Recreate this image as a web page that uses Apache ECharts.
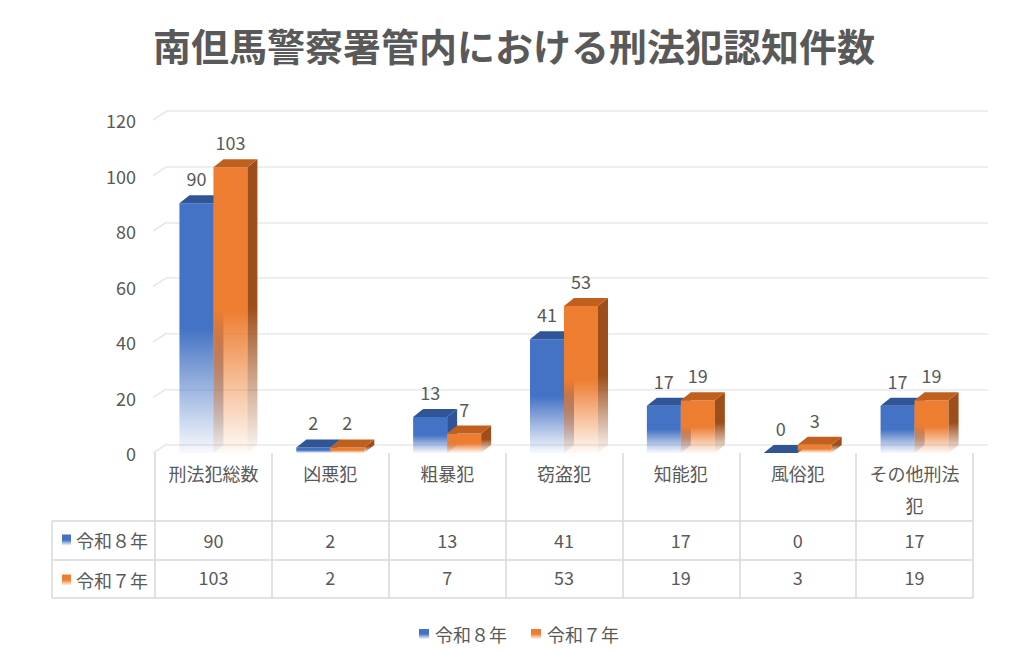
<!DOCTYPE html>
<html>
<head>
<meta charset="utf-8">
<script src="https://cdn.jsdelivr.net/npm/echarts@6/dist/echarts.min.js"></script>
<style>
html,body{margin:0;padding:0;background:#fff;}
#chart{width:1028px;height:662px;}
</style>
</head>
<body>
<div id="chart"></div>
<script>
const titleText = '南但馬警察署管内における刑法犯認知件数';
const categories = ['刑法犯総数', '凶悪犯', '粗暴犯', '窃盗犯', '知能犯', '風俗犯', 'その他刑法犯'];
const seriesNames = ['令和８年', '令和７年'];
const valuesR8 = [90, 2, 13, 41, 17, 0, 17];
const valuesR7 = [103, 2, 7, 53, 19, 3, 19];
const yTicks = [0, 20, 40, 60, 80, 100, 120];

const FONT = '"Noto Sans CJK JP", "Noto Sans", sans-serif';
const TXT = '#595959';
const GRID_LINE = '#e8e8e8';
const TABLE_LINE = '#d9d9d9';

const palettes = [
  { front: [68, 114, 196], top: '#2f5597', side: [47, 85, 151] },
  { front: [237, 125, 49], top: '#c0601f', side: [158, 78, 26] }
];

function fade(rgb) {
  const c = 'rgb(' + rgb.join(',') + ')';
  return {
    type: 'linear', x: 0, y: 0, x2: 0, y2: 1,
    colorStops: [
      { offset: 0, color: c },
      { offset: 0.5, color: c },
      { offset: 0.78, color: 'rgba(' + rgb.join(',') + ',0.45)' },
      { offset: 1, color: 'rgba(' + rgb.join(',') + ',0.04)' }
    ]
  };
}

const BAR_W = 34, DX = 10, DY = 8;

function makeBarSeries(idx, values) {
  const pal = palettes[idx];
  return {
    name: seriesNames[idx],
    type: 'custom',
    xAxisIndex: 0,
    yAxisIndex: 0,
    itemStyle: { color: fade(pal.front) },
    data: values.map((v, i) => [i, v]),
    encode: { x: 0, y: 1 },
    z: 3 + idx,
    renderItem: function (params, api) {
      const i = api.value(0), v = api.value(1);
      const top = api.coord([i, v]);
      const base = api.coord([i, 0]);
      const x0 = idx === 0 ? top[0] - BAR_W : top[0];
      const x1 = x0 + BAR_W;
      const yt = top[1], yb = base[1];
      const children = [];
      if (yb - yt > 0.5) {
        children.push({
          type: 'rect',
          shape: { x: x0, y: yt, width: BAR_W, height: yb - yt },
          style: { fill: fade(pal.front) }
        });
        children.push({
          type: 'polygon',
          shape: { points: [[x1, yt], [x1 + DX, yt - DY], [x1 + DX, yb - DY], [x1, yb]] },
          style: { fill: fade(pal.side) }
        });
      }
      children.push({
        type: 'polygon',
        shape: { points: [[x0, yt], [x0 + DX, yt - DY], [x1 + DX, yt - DY], [x1, yt]] },
        style: { fill: pal.top }
      });
      children.push({
        type: 'text',
        style: {
          text: String(v), x: x0 + BAR_W / 2, y: yt - 25,
          align: 'center', verticalAlign: 'middle',
          fill: TXT, fontSize: 18, fontFamily: FONT
        }
      });
      return { type: 'group', children: children };
    }
  };
}

const chart = echarts.init(document.getElementById('chart'), null, { renderer: 'svg' });

const tableLeft = 52, gridL = 155, gridR = 973;
const rowLines = [521, 560, 598];

const graphicEls = rowLines.map(y => ({
  type: 'line', silent: true,
  shape: { x1: tableLeft, y1: y, x2: gridR, y2: y },
  style: { stroke: TABLE_LINE, lineWidth: 1.5 }
}));
graphicEls.push({
  type: 'line', silent: true,
  shape: { x1: tableLeft, y1: rowLines[0], x2: tableLeft, y2: rowLines[2] },
  style: { stroke: TABLE_LINE, lineWidth: 1.5 }
});

const option = {
  backgroundColor: '#fff',
  animation: false,
  title: {
    text: titleText, left: 'center', top: 20,
    textStyle: { fontSize: 38, fontWeight: 'bold', color: TXT, fontFamily: FONT }
  },
  legend: [
    {
      data: seriesNames, left: 414, top: 620, itemWidth: 10, itemHeight: 10, itemGap: 24,
      icon: 'rect',
      textStyle: { fontSize: 18, color: TXT, fontFamily: FONT, padding: [0, 0, 0, 1] }
    },
    {
      data: seriesNames, orient: 'vertical', left: 57, top: 525, itemWidth: 9, itemHeight: 11,
      itemGap: 20, icon: 'rect',
      textStyle: { fontSize: 18, color: TXT, fontFamily: FONT, lineHeight: 20 }
    }
  ],
  grid: [
    { left: gridL, right: 1028 - gridR, top: 120, bottom: 209 },
    { left: 167, right: 40, top: 111, bottom: 217 }
  ],
  xAxis: [
    {
      type: 'category', gridIndex: 0, data: categories,
      axisLine: { show: false },
      axisTick: { show: true, interval: 0, length: 145, lineStyle: { color: TABLE_LINE, width: 1.5 } },
      axisLabel: {
        interval: 0, margin: 4, color: TXT, fontSize: 18, fontFamily: FONT,
        width: 100, overflow: 'break', lineHeight: 32
      }
    },
    {
      type: 'category', gridIndex: 0, position: 'bottom', offset: 0,
      data: valuesR8.map(String),
      axisLine: { show: false }, axisTick: { show: false },
      axisLabel: { interval: 0, margin: 76, color: TXT, fontSize: 18, fontFamily: FONT, lineHeight: 22 }
    },
    {
      type: 'category', gridIndex: 0, position: 'bottom', offset: 0,
      data: valuesR7.map(String),
      axisLine: { show: false }, axisTick: { show: false },
      axisLabel: { interval: 0, margin: 113, color: TXT, fontSize: 18, fontFamily: FONT, lineHeight: 22 }
    },
    { type: 'category', gridIndex: 1, data: categories, show: false }
  ],
  yAxis: [
    {
      type: 'value', gridIndex: 0, min: yTicks[0], max: yTicks[yTicks.length - 1],
      interval: yTicks[1] - yTicks[0],
      axisLine: { show: false }, axisTick: { show: false }, splitLine: { show: false },
      axisLabel: { margin: 19, color: TXT, fontSize: 18, fontFamily: FONT }
    },
    {
      type: 'value', gridIndex: 1, min: yTicks[0], max: yTicks[yTicks.length - 1],
      interval: yTicks[1] - yTicks[0],
      axisLine: { show: false }, axisTick: { show: false }, axisLabel: { show: false },
      splitLine: { show: true, lineStyle: { color: GRID_LINE, width: 1.5 } }
    }
  ],
  graphic: graphicEls,
  series: [
    {
      name: 'wall',
      type: 'custom', xAxisIndex: 0, yAxisIndex: 0, silent: true, z: 1,
      data: yTicks.map(t => [0, t]),
      encode: { x: 0, y: 1 },
      renderItem: function (params, api) {
        const y = api.coord([0, api.value(1)])[1];
        const x = params.coordSys.x - 2;
        return {
          type: 'line',
          shape: { x1: x, y1: y, x2: x + 14, y2: y - 9 },
          style: { stroke: GRID_LINE, lineWidth: 1.5 }
        };
      }
    },
    makeBarSeries(0, valuesR8),
    makeBarSeries(1, valuesR7)
  ]
};

chart.setOption(option);
</script>
</body>
</html>
